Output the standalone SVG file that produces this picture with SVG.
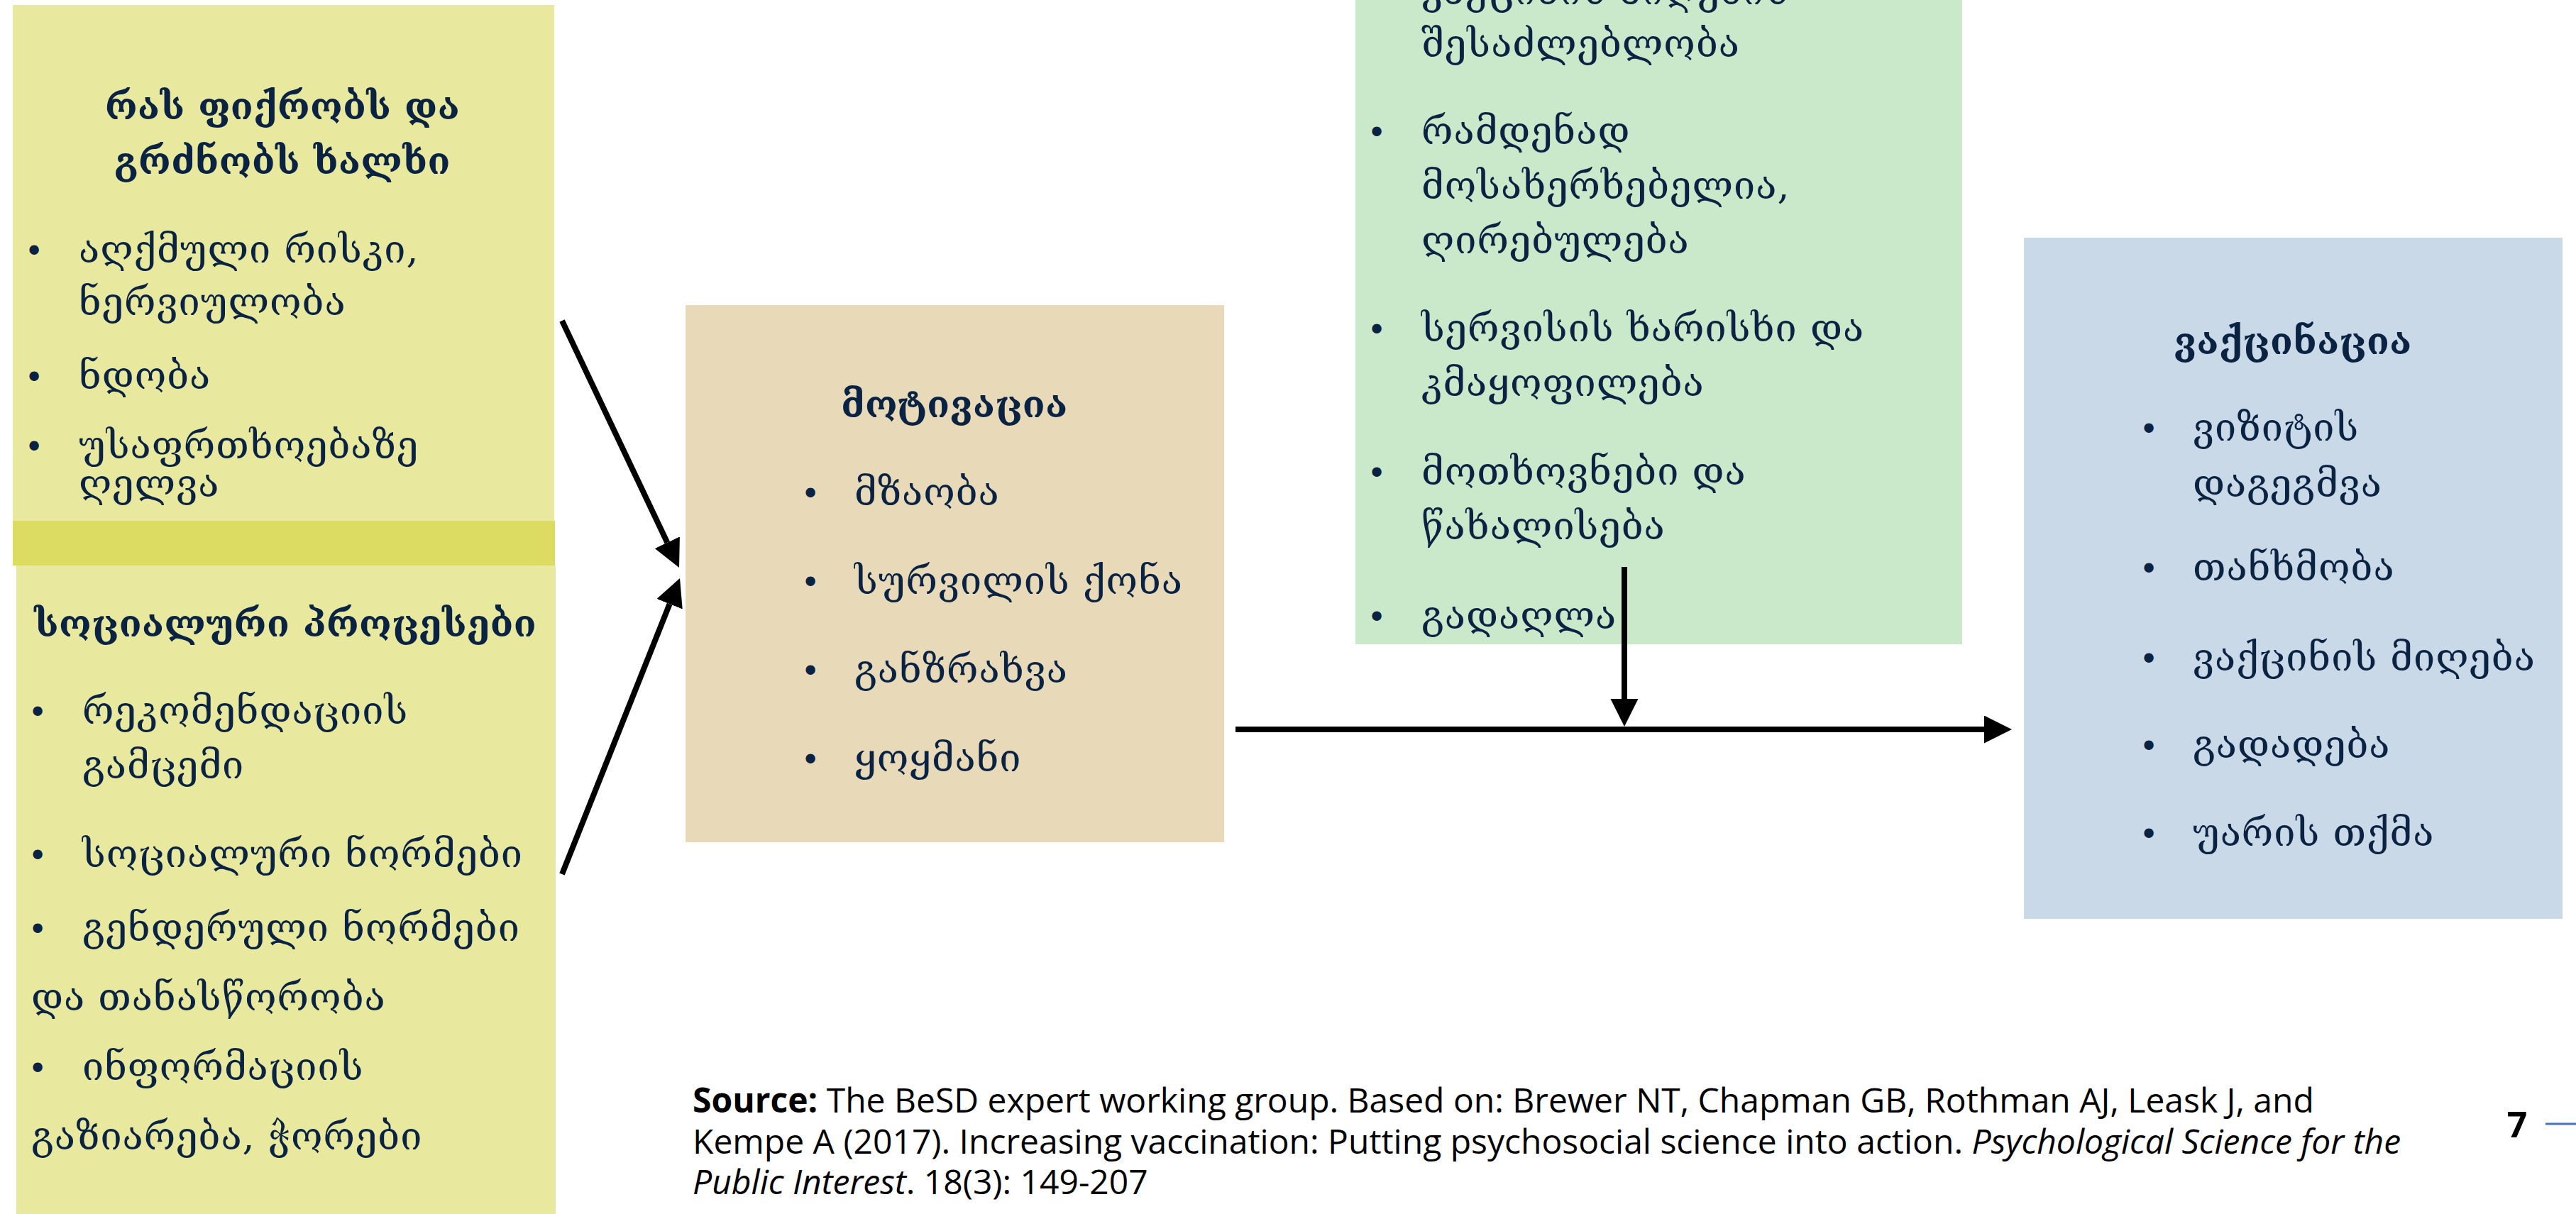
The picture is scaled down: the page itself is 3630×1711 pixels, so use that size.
<svg xmlns="http://www.w3.org/2000/svg" width="3630" height="1711" viewBox="0 0 3630 1711">
<style>
  .ka { font-family: "DejaVu Serif", "DejaVu Sans", sans-serif; font-size: 54px; letter-spacing: 1px; fill: #0B2343; }
  .kab { font-family: "DejaVu Serif", "DejaVu Sans", sans-serif; font-size: 52px; letter-spacing: 0.5px; font-weight: bold; fill: #0B2343; }
  .bul { font-family: "DejaVu Sans", sans-serif; font-size: 46px; fill: #0B2343; text-anchor: middle; }
  .mid { text-anchor: middle; }
  .src { font-family: "Open Sans", "Liberation Sans", sans-serif; font-size: 48px; fill: #000000; }
  .conn { stroke: #000000; stroke-width: 8; fill: none; marker-end: url(#arr); }
</style>
<defs>
  <marker id="arr" markerUnits="userSpaceOnUse" markerWidth="40" markerHeight="40" refX="0" refY="19.5" orient="auto">
    <path d="M0,0 L39,19.5 L0,39 Z" fill="#000000"/>
  </marker>
</defs>
<rect width="3630" height="1711" fill="#FFFFFF"/>

<g id="node-thinking">
  <rect x="18" y="7" width="763" height="727" fill="#E8E89E"/>
  <text class="kab mid" x="398" y="168">რას ფიქრობს და</text>
  <text class="kab mid" x="398" y="245">გრძნობს ხალხი</text>
  <text class="bul" x="48" y="370">•</text>
  <text class="ka" x="111" y="370">აღქმული რისკი,</text>
  <text class="ka" x="111" y="444">ნერვიულობა</text>
  <text class="bul" x="48" y="548">•</text>
  <text class="ka" x="111" y="548">ნდობა</text>
  <text class="bul" x="48" y="646">•</text>
  <text class="ka" x="111" y="646">უსაფრთხოებაზე</text>
  <text class="ka" x="111" y="700">ღელვა</text>
</g>

<g id="node-band">
  <rect x="18" y="734" width="764" height="63" fill="#DCDC62"/>
</g>

<g id="node-social">
  <rect x="23" y="797" width="760" height="914" fill="#E8E89E"/>
  <text class="kab" x="48" y="897">სოციალური პროცესები</text>
  <text class="bul" x="53" y="1020">•</text>
  <text class="ka" x="116" y="1020">რეკომენდაციის</text>
  <text class="ka" x="116" y="1097">გამცემი</text>
  <text class="bul" x="53" y="1222">•</text>
  <text class="ka" x="116" y="1222">სოციალური ნორმები</text>
  <text class="bul" x="53" y="1326">•</text>
  <text class="ka" x="116" y="1326">გენდერული ნორმები</text>
  <text class="ka" x="44" y="1424">და თანასწორობა</text>
  <text class="bul" x="53" y="1522">•</text>
  <text class="ka" x="116" y="1522">ინფორმაციის</text>
  <text class="ka" x="44" y="1620">გაზიარება, ჭორები</text>
</g>

<g id="node-motivation">
  <rect x="966" y="430" width="759" height="757" fill="#E8D9B9"/>
  <text class="kab mid" x="1345" y="588">მოტივაცია</text>
  <text class="bul" x="1142" y="712">•</text>
  <text class="ka" x="1204" y="712">მზაობა</text>
  <text class="bul" x="1142" y="837">•</text>
  <text class="ka" x="1204" y="837">სურვილის ქონა</text>
  <text class="bul" x="1142" y="962">•</text>
  <text class="ka" x="1204" y="962">განზრახვა</text>
  <text class="bul" x="1142" y="1087">•</text>
  <text class="ka" x="1204" y="1087">ყოყმანი</text>
</g>

<g id="node-practical">
  <rect x="1910" y="0" width="855" height="908" fill="#CAE8CA"/>
  <text class="ka" x="2003" y="6">ვაქცინის მიღების</text>
  <text class="ka" x="2003" y="80">შესაძლებლობა</text>
  <text class="bul" x="1940" y="203">•</text>
  <text class="ka" x="2003" y="203">რამდენად</text>
  <text class="ka" x="2003" y="280">მოსახერხებელია,</text>
  <text class="ka" x="2003" y="357">ღირებულება</text>
  <text class="bul" x="1940" y="481">•</text>
  <text class="ka" x="2003" y="481">სერვისის ხარისხი და</text>
  <text class="ka" x="2003" y="558">კმაყოფილება</text>
  <text class="bul" x="1940" y="683">•</text>
  <text class="ka" x="2003" y="683">მოთხოვნები და</text>
  <text class="ka" x="2003" y="760">წახალისება</text>
  <text class="bul" x="1940" y="886">•</text>
  <text class="ka" x="2003" y="886">გადაღლა</text>
</g>

<g id="node-vaccination">
  <rect x="2852" y="335" width="759" height="960" fill="#C9D9E8"/>
  <text class="kab mid" x="3231" y="499">ვაქცინაცია</text>
  <text class="bul" x="3028" y="621">•</text>
  <text class="ka" x="3090" y="621">ვიზიტის</text>
  <text class="ka" x="3090" y="700">დაგეგმვა</text>
  <text class="bul" x="3028" y="818">•</text>
  <text class="ka" x="3090" y="818">თანხმობა</text>
  <text class="bul" x="3028" y="945">•</text>
  <text class="ka" x="3090" y="945">ვაქცინის მიღება</text>
  <text class="bul" x="3028" y="1068">•</text>
  <text class="ka" x="3090" y="1068">გადადება</text>
  <text class="bul" x="3028" y="1192">•</text>
  <text class="ka" x="3090" y="1192">უარის თქმა</text>
</g>

<g id="connectors">
  <line class="conn" x1="792" y1="452" x2="940.3" y2="764.7"/>
  <line class="conn" x1="792" y1="1232" x2="943.6" y2="851.2"/>
  <line class="conn" x1="1741" y1="1028" x2="2796" y2="1028"/>
  <line class="conn" x1="2289" y1="799" x2="2289" y2="985"/>
</g>

<g id="footer">
  <text class="src" x="976" y="1568"><tspan font-weight="bold">Source:</tspan> The BeSD expert working group. Based on: Brewer NT, Chapman GB, Rothman AJ, Leask J, and</text>
  <text class="src" x="976" y="1626">Kempe A (2017). Increasing vaccination: Putting psychosocial science into action. <tspan font-style="italic">Psychological Science for the</tspan></text>
  <text class="src" x="976" y="1683"><tspan font-style="italic">Public Interest</tspan>. 18(3): 149-207</text>
  <text x="3547" y="1603" font-family="'Open Sans', 'Liberation Sans', sans-serif" font-size="50" font-weight="bold" text-anchor="middle" fill="#000000">7</text>
  <line x1="3587" y1="1584" x2="3630" y2="1584" stroke="#4472C4" stroke-width="3"/>
</g>
</svg>
